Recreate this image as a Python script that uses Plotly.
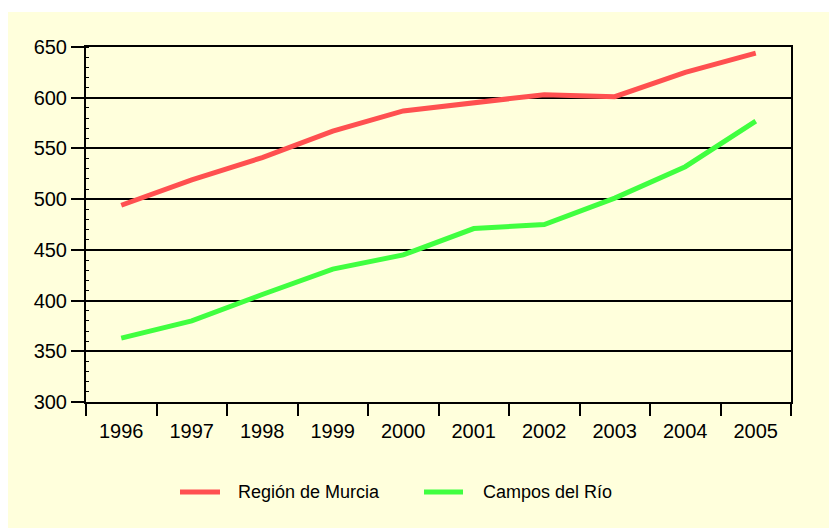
import plotly.graph_objects as go

years = ["1996", "1997", "1998", "1999", "2000", "2001", "2002", "2003", "2004", "2005"]
murcia = [494, 519, 541, 567, 587, 595, 603, 601, 625, 644]
campos = [363, 380, 406, 431, 445, 471, 475, 501, 532, 577]
series_names = ["Región de Murcia", "Campos del Río"]
series_colors = ["#FF5050", "#40FF40"]
y_ticks = [300, 350, 400, 450, 500, 550, 600, 650]

BG = "#FFFFDC"
FONT = "Liberation Sans, Arial, sans-serif"

fig = go.Figure()
for name, vals, col in zip(series_names, [murcia, campos], series_colors):
    fig.add_trace(go.Scatter(x=years, y=vals, mode="lines", name=name,
                             line=dict(color=col, width=5), showlegend=False))

W, H = 829, 520
L, R, T, B = 78, 46, 39, 126
pw, ph = W - L - R, H - T - B


def px(fx):
    return (fx - L) / pw


def py(fy):
    return (T + ph - fy) / ph


# yellow panel (white strip at the very top)
fig.add_shape(type="rect", xref="paper", yref="paper", layer="below",
              x0=px(-2), x1=px(W + 2), y0=py(H + 2), y1=py(4),
              fillcolor=BG, line=dict(width=0))

# legend (drawn manually to match the original spacing)
legend_items = [(172, 212, 228), (416, 455, 473)]
for (x0, x1, tx), name, col in zip(legend_items, series_names, series_colors):
    fig.add_shape(type="line", xref="paper", yref="paper",
                  x0=px(x0), x1=px(x1), y0=py(484), y1=py(484),
                  line=dict(color=col, width=5))
    fig.add_annotation(xref="paper", yref="paper", x=px(tx), y=py(484),
                       xanchor="left", yanchor="middle", text=name,
                       showarrow=False, font=dict(size=18, family=FONT, color="black"))

fig.update_layout(
    width=W, height=H,
    margin=dict(l=L, r=R, t=T, b=B, autoexpand=False),
    paper_bgcolor="white", plot_bgcolor="rgba(0,0,0,0)",
    font=dict(family=FONT, color="black", size=20),
    showlegend=False,
    xaxis=dict(type="category", range=[-0.5, 9.5], tickson="boundaries",
               ticks="outside", ticklen=12, tickwidth=2, tickcolor="black",
               ticklabelstandoff=10,
               showline=True, linecolor="black", linewidth=2, mirror=True,
               showgrid=False, tickfont=dict(size=20), fixedrange=True),
    yaxis=dict(range=[300, 650], tickvals=y_ticks, ticks="outside", ticklen=13,
               tickwidth=2, tickcolor="black",
               showline=True, linecolor="black", linewidth=2, mirror=True,
               showgrid=True, gridcolor="black", gridwidth=2,
               zeroline=False, tickfont=dict(size=20),
               minor=dict(ticks="inside", ticklen=3, dtick=10, tickcolor="black",
                          tickwidth=1, showgrid=False)),
)

fig.write_html("out.html")
